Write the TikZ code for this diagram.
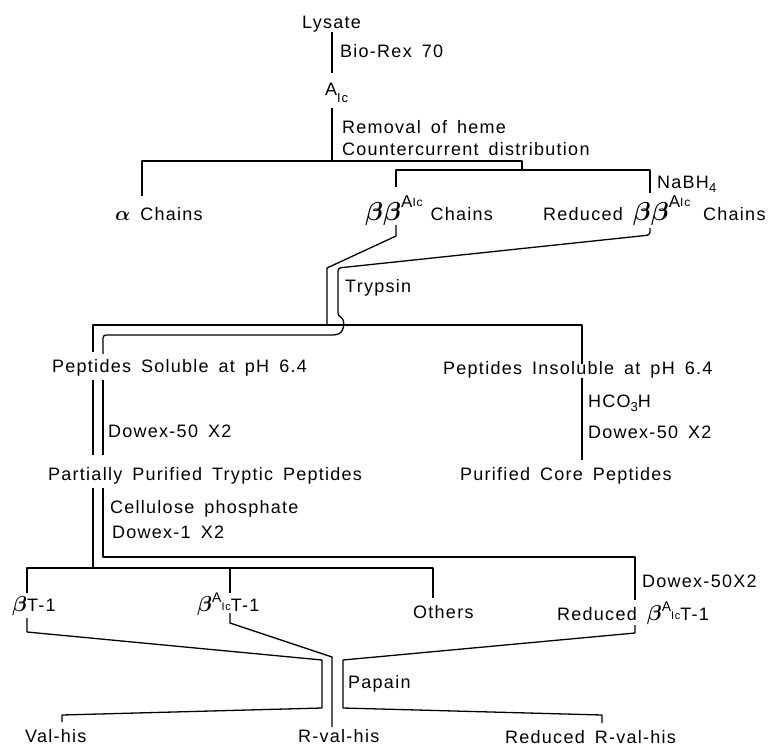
\documentclass[tikz,border=0pt]{standalone}
\usepackage{amsmath}
\usepackage{fontspec}
\setmainfont[LetterSpace=7,WordSpace=1.6]{Liberation Sans}
\usetikzlibrary{calc}
\newcommand\bigb{\scalebox{1.5}{$\boldsymbol{\beta}$}}
\newcommand\midb{\scalebox{1.25}{$\boldsymbol{\beta}$}}
\newcommand\alp{\scalebox{1.15}{$\boldsymbol{\alpha}$}}
\newcommand\supAIc{\raisebox{13pt}{\fontsize{17}{17}\selectfont A}\raisebox{14pt}{\fontsize{12}{12}\selectfont Ic}}
\newcommand\supAIcs{\raisebox{9pt}{\fontsize{14}{14}\selectfont A}\raisebox{1pt}{\fontsize{11}{11}\selectfont Ic}}
\newcommand\sbs[1]{\raisebox{-4pt}{\fontsize{13}{13}\selectfont #1}}
\begin{document}
\begin{tikzpicture}[x=1pt,y=-1pt,
  txt/.style={anchor=base west,inner sep=0pt,font=\fontsize{18}{20}\selectfont},
  ln/.style={line width=1.3pt,line join=round}]
\useasboundingbox (0,0) rectangle (768,747);
% ---------- texts ----------
\node[txt] (lys)    at (302,28)  {Lysate};
\node[txt] (biorex) at (340,57)  {Bio-Rex 70};
\node[txt] (aic)    at (325,95)  {A\raisebox{-7pt}{\fontsize{13}{13}\selectfont Ic}};
\node[txt] (rem)    at (342,133) {Removal of heme};
\node[txt] (cc)     at (342,155) {Countercurrent distribution};
\node[txt] (ach)    at (115,220) {\alp\ Chains};
\node[txt] (bb)     at (365,220) {\bigb\bigb\supAIc\hspace{8pt}Chains};
\node[txt] (rbb)    at (543,220) {Reduced \bigb\bigb\supAIc};
\node[txt] (rbbc)   at (703,220) {Chains};
\node[txt] (nabh)   at (657,188) {NaBH\sbs{4}};
\node[txt] (tryp)   at (345,292) {Trypsin};
\node[txt] (sol)    at (52,372)  {Peptides Soluble at pH 6.4};
\node[txt] (insol)  at (443,374) {Peptides Insoluble at pH 6.4};
\node[txt] (dwx1)   at (108,437) {Dowex-50 X2};
\node[txt] (hco)    at (588,407) {HCO\sbs{3}H};
\node[txt] (dwx2)   at (588,438) {Dowex-50 X2};
\node[txt] (ppt)    at (48,480)  {Partially Purified Tryptic Peptides};
\node[txt] (core)   at (460,480) {Purified Core Peptides};
\node[txt] (cell)   at (110,513) {Cellulose phosphate};
\node[txt] (dwx3)   at (112,538) {Dowex-1 X2};
\node[txt] (dwx4)   at (642,587) {Dowex-50X2};
\node[txt] (bt)     at (12,611)  {\midb T-1};
\node[txt] (bat)    at (197,611) {\midb\supAIcs T-1};
\node[txt] (oth)    at (413,618) {Others};
\node[txt] (rbat)   at (557,620) {Reduced \midb\supAIcs T-1};
\node[txt] (pap)    at (348,688) {Papain};
\node[txt] (vh)     at (25,742)  {Val-his};
\node[txt] (rvh)    at (298,742) {R-val-his};
\node[txt] (rrvh)   at (505,743) {Reduced R-val-his};
% ---------- bend points ----------
\coordinate (a1) at (332,32);  \coordinate (a2) at (332,73);
\coordinate (b1) at (332,108); \coordinate (b2) at (332,161);
\coordinate (h1l) at (142,161); \coordinate (h1r) at (522,161);
\coordinate (h2j) at (522,170);
\coordinate (h2l) at (396,170); \coordinate (h2r) at (650,170);
\coordinate (bbd) at (396,225); \coordinate (rbd) at (650,228);
\coordinate (h3l) at (93,325); \coordinate (h3r) at (582,325);
\coordinate (inl) at (103,335);
\coordinate (o1) at (93,568); \coordinate (i1) at (103,557);
\coordinate (h4l) at (27,568); \coordinate (h4r) at (433,568);
\coordinate (h5r) at (635,557);
% ---------- connectors ----------
\draw[ln] (a1) -- (a2);
\draw[ln] (b1) -- (b2);
\draw[ln] (142,196) -- (h1l) -- (h1r) -- (h2j);
\draw[ln] (396,187) -- (h2l) -- (h2r) -- (650,193);
\draw[ln] (bbd) -- (396,236) -- (327,268) -- (327,325);
\draw[ln] (93,352) -- (h3l) -- (h3r) -- (582,364);
\draw[ln,rounded corners=3pt] (rbd) -- (650,235) -- (338,268) -- (338,316)
   .. controls (345,319) and (345,331) .. (336,335) -- (inl) -- (103,354);
\draw[ln] (93,380) -- (93,455);
\draw[ln] (103,380) -- (103,455);
\draw[ln] (582,378) -- (582,460);
\draw[ln] (93,488) -- (o1);
\draw[ln] (27,593) -- (h4l) -- (h4r) -- (433,598);
\draw[ln] (230,568) -- (230,593);
\draw[ln] (103,488) -- (i1) -- (h5r) -- (635,600);
\draw[ln] (27,618) -- (27,632) -- (322,660) -- (322,708) -- (62,715) -- (62,722);
\draw[ln] (230,613) -- (230,623) -- (332,657) -- (332,727);
\draw[ln] (635,625) -- (635,633) -- (343,660) -- (343,708) -- (602,715) -- (602,723);
\end{tikzpicture}
\end{document}
